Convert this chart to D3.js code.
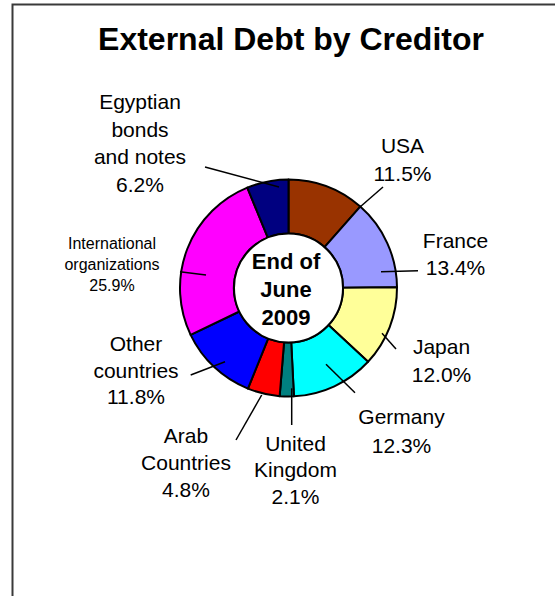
<!DOCTYPE html>
<html>
<head>
<meta charset="utf-8">
<script src="https://cdn.jsdelivr.net/npm/d3@7"></script>
<style>
  html, body { margin: 0; padding: 0; background: #fff; }
  svg { display: block; font-family: Arial, "Liberation Sans", sans-serif; }
</style>
</head>
<body>
<div id="chart"></div>
<script>
// Creditor shares of external debt, clockwise from 12 o'clock
const creditors = ["USA", "France", "Japan", "Germany", "United Kingdom",
  "Arab Countries", "Other countries", "International organizations",
  "Egyptian bonds and notes"];
const shares = [11.5, 13.4, 12.0, 12.3, 2.1, 4.8, 11.8, 25.9, 6.2];
const colors = ["#993300", "#9999FF", "#FFFF99", "#00FFFF", "#008080",
  "#FF0000", "#0000FF", "#FF00FF", "#000080"];
// Label text lines (the last line is the share)
const labelLines = [
  ["USA"], ["France"], ["Japan"], ["Germany"], ["United", "Kingdom"],
  ["Arab", "Countries"], ["Other", "countries"], ["International", "organizations"],
  ["Egyptian", "bonds", "and notes"]
];
const centerText = ["End of", "June", "2009"];

const W = 555, H = 596;
const cx = 288.5, cy = 288;
const outerR = 108.5, innerR = 54.5;

// Label placement relative to the ring centre: text centre x, first baseline,
// line step, font size; leader line from (x1,y1) to (x2,y2)
const labelLayout = [
  { tx: 114, ty: -135, step: 27.7, size: 21, l: [71.5, -81, 94.5, -101] },
  { tx: 167, ty: -40, step: 26.7, size: 21, l: [92.5, -16.3, 129.5, -17.3] },
  { tx: 153, ty: 66, step: 27.7, size: 21, l: [93.5, 45.3, 107.5, 61] },
  { tx: 113, ty: 136.3, step: 28.3, size: 21, l: [37.5, 76.3, 66.5, 104.7] },
  { tx: 7, ty: 162.7, step: 26.7, size: 21, l: [3.2, 100.3, 3.2, 137] },
  { tx: -102.5, ty: 155.3, step: 26.7, size: 21, l: [-26.8, 107, -52.5, 152] },
  { tx: -152.5, ty: 63, step: 26.7, size: 21, l: [-63.5, 73.7, -97.8, 87] },
  { tx: -176.5, ty: -39.5, step: 21.3, size: 16, l: [-82.5, -13, -108.5, -16.3] },
  { tx: -148.5, ty: -179, step: 27.5, size: 21, l: [-83.5, -121, -9.5, -101] }
];

const data = creditors.map((name, i) => ({
  name, value: shares[i], color: colors[i], lines: labelLines[i], layout: labelLayout[i]
}));

const svg = d3.select("#chart").append("svg")
  .attr("width", W).attr("height", H);

svg.append("rect").attr("width", W).attr("height", H).attr("fill", "#fff");

// Frame (runs off the right and bottom edges)
svg.append("rect")
  .attr("x", 12.5).attr("y", 4.5)
  .attr("width", 700).attr("height", 700)
  .attr("fill", "none").attr("stroke", "#3a3a3a").attr("stroke-width", 2);

// Title
svg.append("text")
  .attr("x", 291).attr("y", 49.5)
  .attr("text-anchor", "middle")
  .attr("font-size", 32).attr("font-weight", "bold")
  .attr("fill", "#000")
  .text("External Debt by Creditor");

const g = svg.append("g").attr("transform", `translate(${cx},${cy})`);

const pie = d3.pie().value(d => d.value).sort(null)
  .startAngle(0).endAngle(2 * Math.PI);
const arc = d3.arc().innerRadius(innerR).outerRadius(outerR);
const arcs = pie(data);

g.selectAll("path.slice").data(arcs).join("path")
  .attr("class", "slice")
  .attr("d", arc)
  .attr("fill", d => d.data.color)
  .attr("stroke", "#000").attr("stroke-width", 2)
  .attr("stroke-linejoin", "round");

// White hole with the date
g.append("circle").attr("r", innerR)
  .attr("fill", "#fff").attr("stroke", "#000").attr("stroke-width", 2);

g.append("text")
  .attr("text-anchor", "middle")
  .attr("font-size", 22).attr("font-weight", "bold").attr("fill", "#000")
  .selectAll("tspan").data(centerText).join("tspan")
  .attr("x", -2.5)
  .attr("y", (d, i) => -18.7 + i * 27.8)
  .text(d => d);

// Leader lines
g.selectAll("line.leader").data(arcs).join("line")
  .attr("class", "leader")
  .attr("x1", d => d.data.layout.l[0]).attr("y1", d => d.data.layout.l[1])
  .attr("x2", d => d.data.layout.l[2]).attr("y2", d => d.data.layout.l[3])
  .attr("stroke", "#000").attr("stroke-width", 1.5);

// Category labels with shares
const fmt = d3.format(".1f");
const labels = g.selectAll("text.label").data(arcs).join("text")
  .attr("class", "label")
  .attr("text-anchor", "middle")
  .attr("fill", "#000")
  .attr("font-size", d => d.data.layout.size);

labels.selectAll("tspan")
  .data(d => d.data.lines.concat([fmt(d.data.value) + "%"]).map(t => ({ t, L: d.data.layout })))
  .join("tspan")
  .attr("x", d => d.L.tx)
  .attr("y", (d, i) => d.L.ty + i * d.L.step)
  .text(d => d.t);
</script>
</body>
</html>
